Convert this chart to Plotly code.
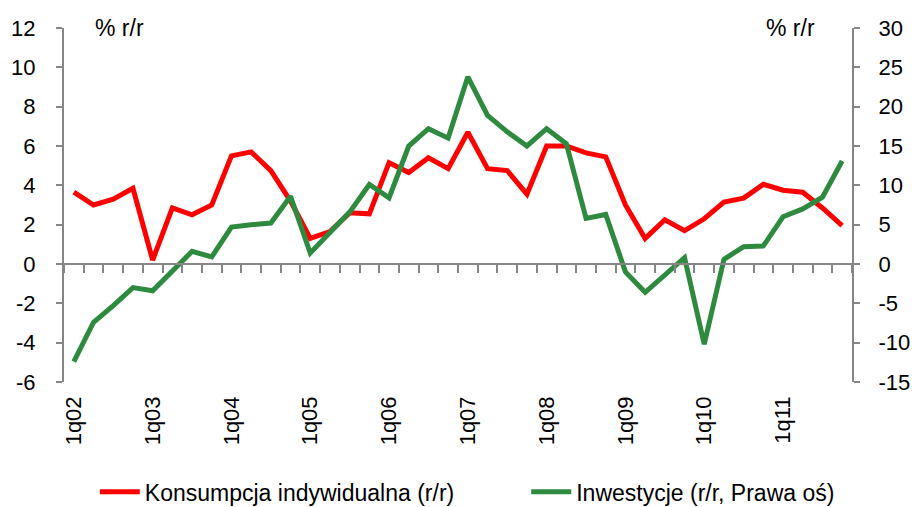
import plotly.graph_objects as go

quarters = [f"{q}q{y:02d}" for y in range(2, 12) for q in range(1, 5)]
year_labels = [f"1q{y:02d}" for y in range(2, 12)]

left_ticks = [-6, -4, -2, 0, 2, 4, 6, 8, 10, 12]
right_ticks = [-15, -10, -5, 0, 5, 10, 15, 20, 25, 30]

# % r/r, left axis
konsumpcja = [
    3.65, 3.0, 3.3, 3.85, 0.2, 2.85, 2.5, 3.0, 5.5, 5.7,
    4.75, 3.2, 1.3, 1.65, 2.6, 2.55, 5.15, 4.65, 5.4, 4.85,
    6.7, 4.85, 4.75, 3.55, 6.0, 6.0, 5.65, 5.45, 3.0, 1.3,
    2.25, 1.7, 2.3, 3.15, 3.35, 4.05, 3.75, 3.65, 2.85, 1.95,
]
# % r/r, right axis
inwestycje = [
    -12.4, -7.4, -5.3, -3.0, -3.4, -0.8, 1.6, 0.9, 4.7, 5.0,
    5.2, 8.6, 1.4, 4.0, 6.6, 10.1, 8.4, 15.0, 17.2, 16.0,
    23.8, 18.9, 16.8, 15.0, 17.2, 15.3, 5.8, 6.3, -1.0, -3.6,
    -1.5, 0.8, -10.2, 0.6, 2.2, 2.3, 6.0, 7.0, 8.5, 13.1,
]

font = "Liberation Sans, Arial, sans-serif"
grey = "#868686"

fig = go.Figure()
# red on the bottom (labelled) x axis, green on the overlaid x axis that sits at zero
fig.add_trace(go.Scatter(
    x=quarters, y=konsumpcja, mode="lines", name="Konsumpcja indywidualna (r/r)",
    line=dict(color="#ff0000", width=5), xaxis="x", yaxis="y", legend="legend",
))
fig.add_trace(go.Scatter(
    x=quarters, y=inwestycje, mode="lines", name="Inwestycje (r/r, Prawa oś)",
    line=dict(color="#2e8a3f", width=5), xaxis="x2", yaxis="y2", legend="legend2",
))

legend_style = dict(orientation="h", xanchor="left", xref="container",
                    yref="container", y=0.03, yanchor="middle",
                    font=dict(size=23), itemwidth=40)

fig.update_layout(
    width=912, height=507,
    margin=dict(l=64, r=60, t=28, b=125),
    paper_bgcolor="white", plot_bgcolor="white",
    font=dict(family=font, size=22, color="black"),
    showlegend=True,
    legend=dict(legend_style, x=0.104),
    legend2=dict(legend_style, x=0.577),
    xaxis=dict(
        type="category", categoryorder="array", categoryarray=quarters,
        range=[-0.5, 39.5], anchor="y", side="bottom",
        tickmode="array", tickvals=year_labels, ticktext=year_labels,
        tickangle=-90, ticks="", showline=False, showgrid=False, zeroline=False,
        ticklabelstandoff=9, automargin=False,
    ),
    xaxis2=dict(
        type="category", categoryorder="array", categoryarray=quarters,
        overlaying="x", range=[-0.5, 39.5], anchor="free", position=1 / 3,
        showline=True, linecolor=grey, linewidth=2,
        ticks="outside", tickson="boundaries", ticklen=8, tickcolor=grey, tickwidth=2,
        showticklabels=False, showgrid=False, zeroline=False,
    ),
    yaxis=dict(
        range=[-6, 12], tickmode="array", tickvals=left_ticks,
        ticktext=[str(v) for v in left_ticks],
        showline=True, linecolor=grey, linewidth=2,
        ticks="outside", ticklen=6, tickcolor=grey, tickwidth=2,
        showgrid=False, zeroline=False, ticklabelstandoff=16, automargin=False,
    ),
    yaxis2=dict(
        range=[-15, 30], tickmode="array", tickvals=right_ticks,
        ticktext=[str(v) for v in right_ticks], overlaying="y", side="right",
        showline=True, linecolor=grey, linewidth=2,
        ticks="outside", ticklen=6, tickcolor=grey, tickwidth=2,
        showgrid=False, zeroline=False, ticklabelstandoff=14, automargin=False,
    ),
    annotations=[
        dict(text="% r/r", xref="paper", yref="paper", x=0.037, y=1.0,
             xanchor="left", yanchor="middle", showarrow=False, font=dict(size=23)),
        dict(text="% r/r", xref="paper", yref="paper", x=0.888, y=1.0,
             xanchor="left", yanchor="middle", showarrow=False, font=dict(size=23)),
    ],
)

# drop the browser's default 8px body margin so the figure fills the window
fig.write_html("out.html", config={"displayModeBar": False},
               post_script="document.body.style.margin='0px';")
